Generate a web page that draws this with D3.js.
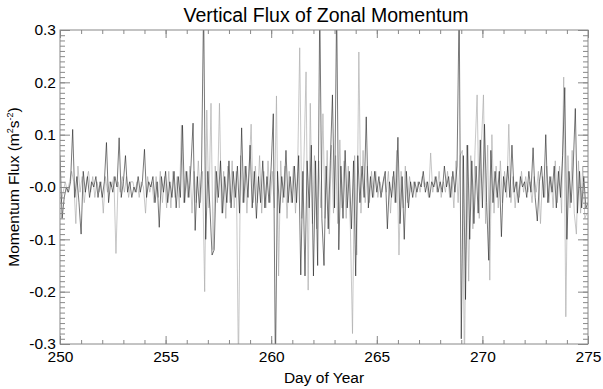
<!DOCTYPE html>
<html>
<head>
<meta charset="utf-8">
<script src="https://cdn.jsdelivr.net/npm/d3@7"></script>
<style>
  body { margin: 0; background: #fff; }
  text { font-family: "Liberation Sans", Arial, Helvetica, sans-serif; fill: #000; }
</style>
</head>
<body>
<svg id="chart" width="603" height="389"></svg>
<script>

// sampling of the two traces (days)
var darkStart = 250, lightStart = 250.05, dayStep = 0.1

// dark trace, one value every 0.1 day from 250.0
const darkFlux = [
  0.06, -0.06, -0.02, 0.00, -0.01, 0.01, 0.11, -0.02, 0.02, -0.03,
  -0.09, 0.03, -0.01, 0.02, -0.02, 0.01, 0.00, 0.02, -0.02, 0.01,
  -0.02, 0.01, 0.085, -0.03, 0.01, -0.01, 0.02, 0.00, 0.094, -0.02,
  0.01, 0.06, -0.01, 0.01, -0.02, 0.00, -0.01, 0.02, -0.01, 0.01,
  0.072, -0.02, 0.01, 0.00, 0.02, -0.03, 0.01, -0.077, 0.02, -0.01,
  0.03, -0.03, 0.01, -0.02, 0.03, -0.04, 0.02, -0.02, 0.118, -0.03,
  0.03, -0.02, 0.04, 0.122, -0.083, 0.02, -0.04, 0.03, 0.35, -0.1,
  0.03, -0.04, -0.13, -0.12, 0.03, -0.02, 0.05, -0.05, 0.02, -0.03,
  0.05, -0.04, 0.03, -0.02, 0.04, -0.05, 0.113, -0.03, 0.04, -0.02,
  0.08, -0.04, 0.03, -0.06, 0.02, -0.03, 0.05, -0.04, 0.02, -0.03,
  0.04, 0.14, -0.35, 0.03, -0.05, 0.02, -0.02, 0.07, -0.03, 0.02,
  -0.03, 0.04, -0.03, 0.06, -0.168, 0.03, -0.17, 0.05, -0.04, 0.08,
  -0.17, 0.05, -0.15, 0.35, -0.06, -0.15, 0.04, -0.08, 0.05, 0.176,
  -0.04, 0.35, -0.12, 0.04, -0.06, 0.07, -0.04, 0.03, -0.08, 0.05,
  -0.17, 0.06, -0.03, 0.04, -0.02, 0.134, -0.04, 0.02, -0.02, 0.03,
  -0.01, 0.02, -0.02, 0.01, 0.03, -0.08, 0.01, -0.02, 0.03, -0.03,
  0.095, -0.07, 0.02, -0.1, 0.03, -0.04, 0.01, -0.02, 0.01, -0.01,
  0.01, 0.00, 0.03, -0.01, 0.01, -0.02, 0.01, 0.00, 0.02, -0.01,
  0.01, -0.01, 0.04, 0.00, 0.02, -0.02, 0.03, -0.01, 0.04, 0.35,
  -0.29, 0.06, -0.215, 0.08, -0.1, 0.05, -0.07, 0.04, -0.05, 0.09,
  -0.04, 0.12, -0.03, -0.14, 0.07, -0.03, 0.03, -0.02, 0.03, -0.095,
  0.02, -0.01, 0.04, -0.02, 0.08, -0.01, 0.01, -0.03, 0.02, 0.00,
  0.01, -0.02, 0.03, -0.01, 0.075, -0.02, -0.065, 0.01, 0.04, -0.02,
  0.1, -0.03, 0.02, -0.01, 0.04, -0.04, 0.03, -0.02, 0.06, 0.19,
  -0.1, 0.03, -0.03, 0.04, 0.15, -0.05, 0.03, -0.04, 0.02, -0.04,
  -0.03
]

// light trace, one value every 0.1 day from 250.05
const lightFlux = [
  -0.03, -0.01, 0.01, -0.01, 0.01, 0.03, 0.01, -0.07, 0.04, -0.01,
  0.02, -0.03, 0.01, 0.03, -0.01, 0.02, -0.02, 0.01, -0.01, 0.01,
  -0.05, 0.02, -0.01, 0.01, 0.00, 0.02, -0.127, 0.01, -0.01, 0.02,
  -0.01, 0.02, -0.02, 0.01, 0.01, -0.01, 0.01, -0.02, 0.01, 0.00,
  -0.05, 0.02, -0.01, 0.01, -0.03, 0.02, -0.02, 0.03, -0.03, 0.02,
  -0.04, 0.03, -0.04, 0.03, -0.02, 0.02, -0.04, 0.118, -0.03, 0.03,
  -0.02, 0.04, -0.05, 0.03, -0.03, 0.05, -0.03, 0.03, -0.2, 0.147,
  -0.04, 0.16, -0.12, 0.04, -0.03, 0.16, -0.05, 0.03, -0.06, 0.04,
  -0.03, 0.05, -0.04, 0.03, -0.35, 0.06, -0.03, 0.04, -0.05, 0.03,
  0.12, -0.03, 0.04, -0.03, 0.06, -0.05, 0.03, -0.04, 0.05, -0.03,
  0.03, -0.04, 0.174, -0.17, 0.05, -0.03, 0.04, -0.06, 0.03, -0.03,
  0.04, -0.05, 0.03, 0.266, -0.06, 0.05, 0.22, -0.197, 0.16, -0.07,
  0.06, -0.08, 0.05, -0.04, 0.14, -0.06, 0.07, -0.09, 0.08, -0.05,
  0.06, -0.07, 0.09, -0.04, 0.05, -0.06, 0.04, -0.08, -0.28, 0.06,
  -0.13, 0.258, -0.05, 0.07, -0.03, 0.04, -0.03, 0.03, -0.02, 0.03,
  -0.02, 0.01, -0.01, 0.02, -0.01, 0.03, -0.05, 0.02, -0.03, 0.07,
  -0.13, 0.03, -0.04, 0.04, -0.03, 0.02, -0.01, 0.01, -0.02, 0.01,
  -0.01, 0.02, 0.00, 0.01, -0.02, 0.065, -0.01, 0.02, -0.01, 0.03,
  -0.02, 0.01, -0.01, 0.03, -0.02, 0.02, -0.04, 0.05, -0.03, 0.06,
  0.07, -0.35, 0.08, -0.18, 0.06, -0.08, 0.07, 0.176, -0.06, 0.08,
  0.176, -0.07, 0.08, -0.178, 0.1, -0.05, 0.04, -0.04, 0.05, -0.03,
  0.03, -0.02, 0.12, -0.03, 0.02, -0.04, 0.01, -0.02, 0.03, -0.01,
  0.02, -0.01, 0.01, -0.03, 0.02, -0.01, 0.03, -0.07, 0.02, -0.02,
  0.04, -0.03, 0.02, -0.04, 0.05, -0.03, 0.04, -0.05, 0.21, -0.248,
  0.06, -0.04, 0.07, -0.05, -0.09, 0.05, -0.05, 0.04, -0.06, -0.05
]

const xTicks = [250, 255, 260, 265, 270, 275]
const xMinorTicks = d3.range(250, 276, 1)
const yTicks = [0.3, 0.2, 0.1, 0, -0.1, -0.2, -0.3]
const yTickLabels = ["0.3", "0.2", "0.1", "-0.0", "-0.1", "-0.2", "-0.3"]
const yMinorTicks = d3.range(-30, 31, 1).map(d => d / 100)

var svg = d3.select("#chart")
var plot = {left: 60, right: 588, top: 30, bottom: 344}

var x = d3.scaleLinear().domain([250, 275]).range([plot.left, plot.right])
var y = d3.scaleLinear().domain([-0.3, 0.3]).range([plot.bottom, plot.top])

svg.append("clipPath").attr("id", "clip")
  .append("rect")
  .attr("x", plot.left).attr("y", plot.top)
  .attr("width", plot.right - plot.left).attr("height", plot.bottom - plot.top)

var lines = svg.append("g").attr("clip-path", "url(#clip)")

var lightLine = d3.line()
  .x((d, i) => x(lightStart + i * dayStep))
  .y(d => y(d))
var darkLine = d3.line()
  .x((d, i) => x(darkStart + i * dayStep))
  .y(d => y(d))

lines.append("path").datum(lightFlux)
  .attr("d", lightLine)
  .attr("fill", "none")
  .attr("stroke", "#a8a8a8")
  .attr("stroke-width", 0.65)

lines.append("path").datum(darkFlux)
  .attr("d", darkLine)
  .attr("fill", "none")
  .attr("stroke", "#1e1e1e")
  .attr("stroke-width", 0.6)

// axes, IDL style ticks pointing inward on all four sides
function clean(g) {
  g.select(".domain").remove()
  g.selectAll(".tick line").attr("stroke", "#888")
}

svg.append("g").attr("transform", `translate(0,${plot.bottom})`)
  .call(d3.axisBottom(x).tickValues(xMinorTicks).tickFormat("").tickSize(-4))
  .call(clean)
svg.append("g").attr("transform", `translate(0,${plot.bottom})`)
  .call(d3.axisBottom(x).tickValues(xTicks).tickFormat(d3.format("d")).tickSize(-8).tickPadding(7))
  .call(clean)
  .call(g => g.selectAll("text").attr("font-size", 15.5).attr("fill", "#000"))

svg.append("g").attr("transform", `translate(0,${plot.top})`)
  .call(d3.axisTop(x).tickValues(xMinorTicks).tickFormat("").tickSize(-4))
  .call(clean)
svg.append("g").attr("transform", `translate(0,${plot.top})`)
  .call(d3.axisTop(x).tickValues(xTicks).tickFormat("").tickSize(-8))
  .call(clean)

svg.append("g").attr("transform", `translate(${plot.left},0)`)
  .call(d3.axisLeft(y).tickValues(yMinorTicks).tickFormat("").tickSize(-5))
  .call(clean)
svg.append("g").attr("transform", `translate(${plot.left},0)`)
  .call(d3.axisLeft(y).tickValues(yTicks).tickFormat((d, i) => yTickLabels[i]).tickSize(-10).tickPadding(4))
  .call(clean)
  .call(g => g.selectAll("text").attr("font-size", 15.5).attr("fill", "#000"))

svg.append("g").attr("transform", `translate(${plot.right},0)`)
  .call(d3.axisRight(y).tickValues(yMinorTicks).tickFormat("").tickSize(-5))
  .call(clean)
svg.append("g").attr("transform", `translate(${plot.right},0)`)
  .call(d3.axisRight(y).tickValues(yTicks).tickFormat("").tickSize(-10))
  .call(clean)

svg.append("rect")
  .attr("x", plot.left).attr("y", plot.top)
  .attr("width", plot.right - plot.left).attr("height", plot.bottom - plot.top)
  .attr("fill", "none").attr("stroke", "#888").attr("stroke-width", 1)

// titles
svg.append("text")
  .attr("x", (plot.left + plot.right) / 2 + 2).attr("y", 22)
  .attr("text-anchor", "middle").attr("font-size", 19.5)
  .text("Vertical Flux of Zonal Momentum")

svg.append("text")
  .attr("x", (plot.left + plot.right) / 2).attr("y", 383)
  .attr("text-anchor", "middle").attr("font-size", 15.5)
  .text("Day of Year")

var yl = svg.append("text")
  .attr("transform", `translate(19,${(plot.top + plot.bottom) / 2}) rotate(-90)`)
  .attr("text-anchor", "middle").attr("font-size", 15.5)
yl.append("tspan").text("Momentum Flux (m")
yl.append("tspan").attr("dy", -6).attr("font-size", 9).text("2")
yl.append("tspan").attr("dy", 6).text("s")
yl.append("tspan").attr("dy", -6).attr("font-size", 9).text("-2")
yl.append("tspan").attr("dy", 6).text(")")

</script>
</body>
</html>
